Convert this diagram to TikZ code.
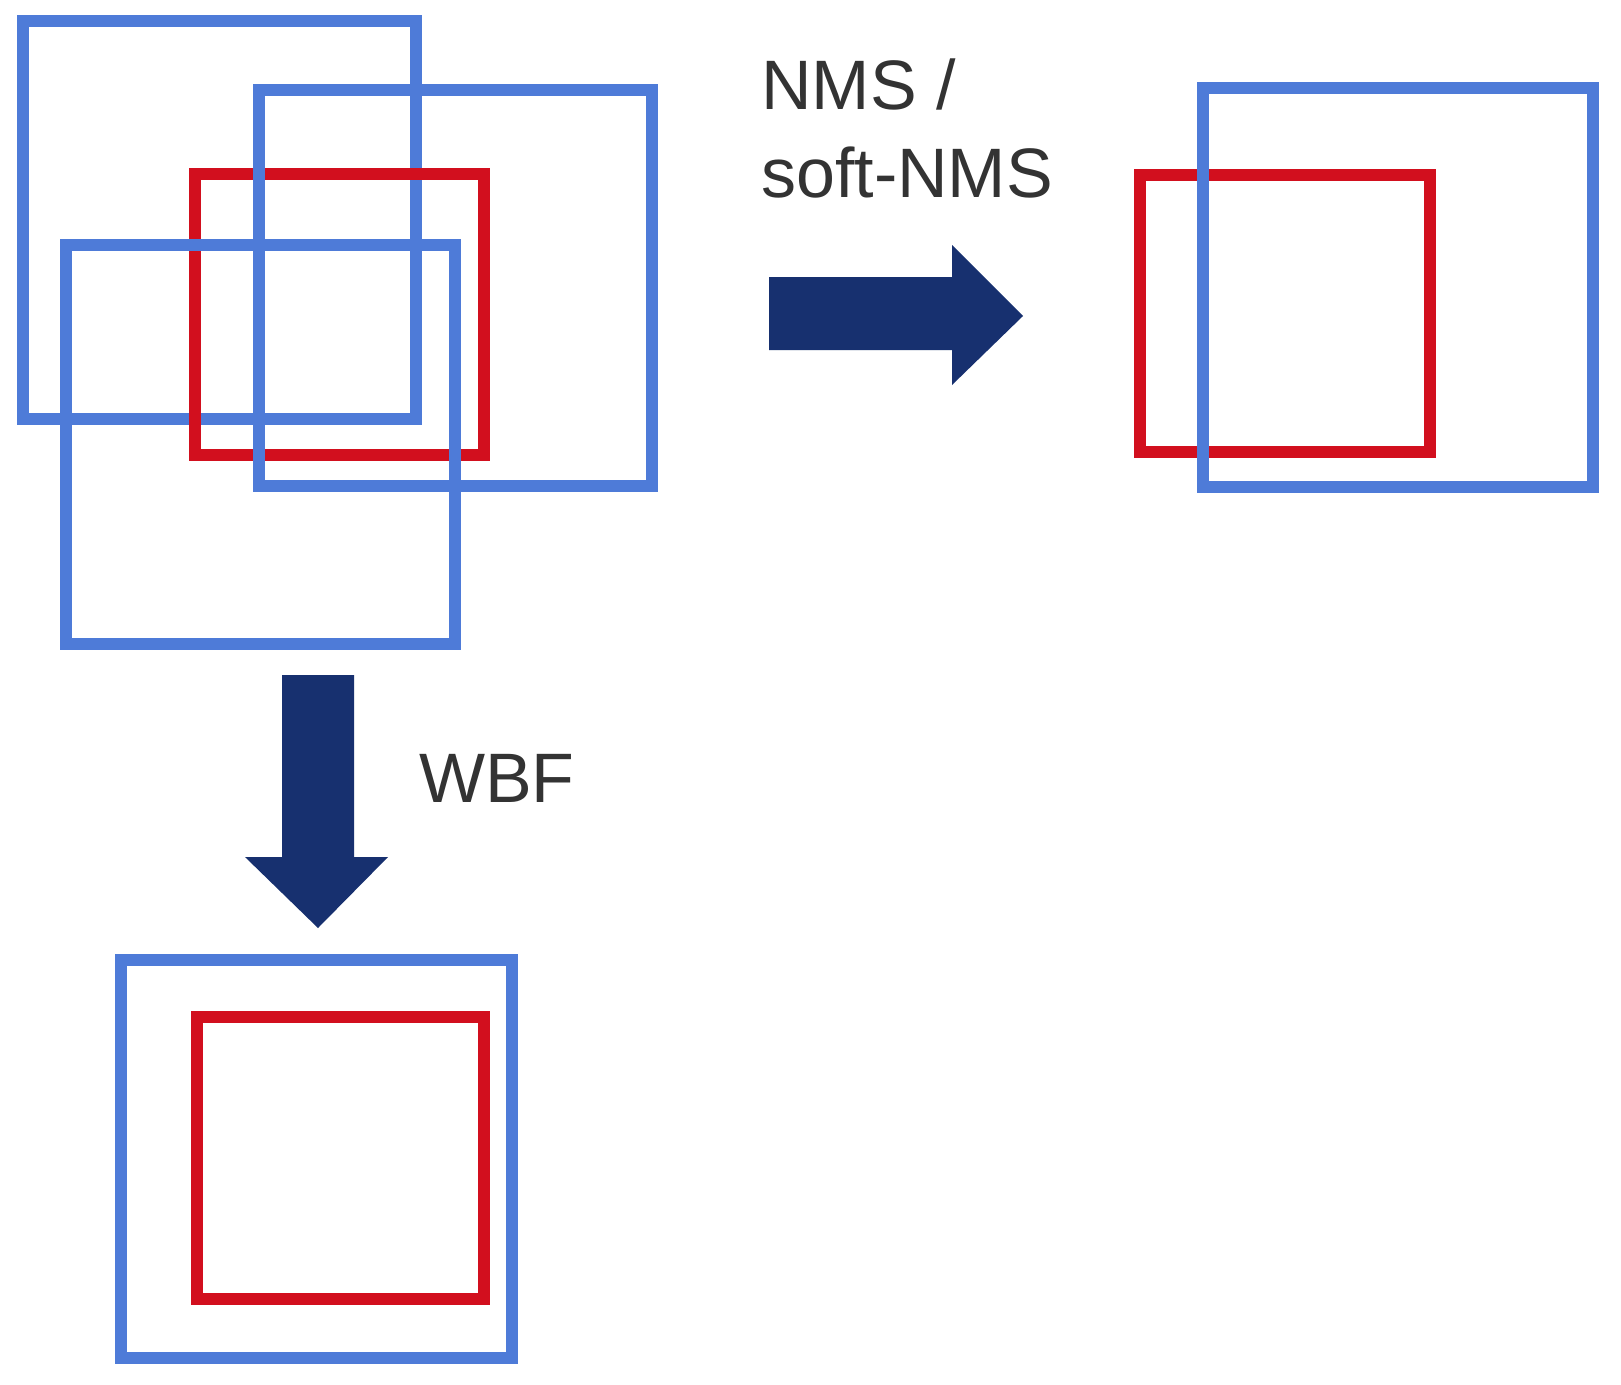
\documentclass[tikz,border=0pt]{standalone}
\usepackage{fontspec}
\setmainfont{Liberation Sans}
\begin{document}
\begin{tikzpicture}[x=1pt,y=-1pt,
  bbox/.style={draw=bboxblue,line width=12pt},
  rbox/.style={draw=boxred,line width=12pt},
  bigarrow/.style={fill=arrownavy,draw=none},
  lbl/.style={text=textgray,font=\fontsize{70}{86}\selectfont,inner sep=0pt,anchor=base west,align=left}]
\definecolor{bboxblue}{HTML}{4E7BD8}
\definecolor{boxred}{HTML}{D20F1E}
\definecolor{arrownavy}{HTML}{17306F}
\definecolor{textgray}{HTML}{333333}
\useasboundingbox (0,0) rectangle (1621,1384);
\fill[white] (0,0) rectangle (1621,1384);
\draw[bbox] (23,21) rectangle (416,419);
\draw[rbox] (195,174) rectangle (484,455);
\draw[bbox] (259,90) rectangle (652,486);
\draw[bbox] (66,245) rectangle (455,644);
\draw[rbox] (1140,175) rectangle (1430,452);
\draw[bbox] (1203,88) rectangle (1593,487);
\draw[bbox] (121,960) rectangle (512,1358);
\draw[rbox] (197,1017) rectangle (484,1299);
\fill[bigarrow] (769,277) -- (952,277) -- (952,245) -- (1023,316) -- (952,385) -- (952,350) -- (769,350) -- cycle;
\fill[bigarrow] (282,675) -- (354,675) -- (354,857) -- (388,857) -- (318,928) -- (245,857) -- (282,857) -- cycle;
\node[lbl] (nms) at (761,109) {NMS /};
\node[lbl] (soft) at (761,197) {soft-NMS};
\node[lbl] (wbf) at (419,802) {WBF};
\end{tikzpicture}
\end{document}
